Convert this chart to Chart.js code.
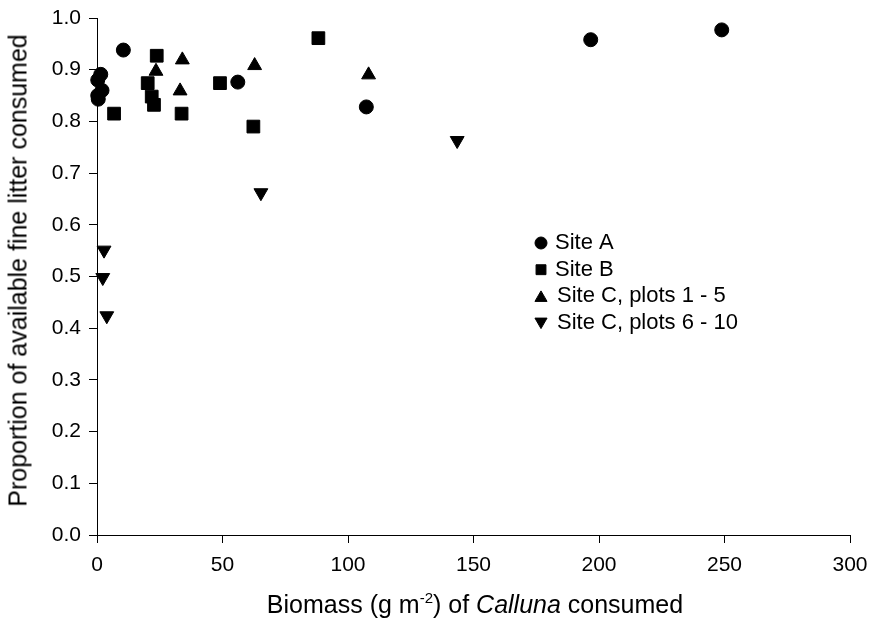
<!DOCTYPE html>
<html>
<head>
<meta charset="utf-8">
<script src="https://cdn.jsdelivr.net/npm/chart.js@4/dist/chart.umd.min.js"></script>
<style>
  body { margin: 0; background: #fff; }
  #wrap { position: relative; width: 869px; height: 632px; overflow: hidden; }
  #grafico { position: absolute; left: 0; top: 0; }
  .titulo {
    position: absolute; text-align: center; color: #000; white-space: nowrap;
    font-family: "Liberation Sans", Arial, sans-serif; font-size: 25px; line-height: 29px;
  }
  #tituloX { left: 97px; width: 756px; top: 590px; }
  #tituloX sup { font-size: 15px; vertical-align: 10px; line-height: 0; }
  #tituloY { left: -242px; width: 520px; top: 256px; height: 29px; transform: rotate(-90deg); }
</style>
</head>
<body>
<div id="wrap">
  <canvas id="grafico" width="869" height="632"></canvas>
  <div id="tituloY" class="titulo">Proportion of available fine litter consumed</div>
  <div id="tituloX" class="titulo">Biomass (g m<sup>-2</sup>) of <i>Calluna</i> consumed</div>
</div>
<script>
// ===== dados =====
const siteAx = [1.5, 0.3, 2, 0.3, 0.5, 10.5, 56.1, 107.3, 196.7, 248.9];
const siteAy = [0.891, 0.880, 0.860, 0.850, 0.843, 0.938, 0.876, 0.828, 0.958, 0.977];

const siteBx = [6.8, 20.2, 21.8, 22.7, 23.8, 33.7, 49.0, 62.3, 88.2];
const siteBy = [0.815, 0.874, 0.848, 0.832, 0.927, 0.815, 0.874, 0.790, 0.961];

const siteC1x = [23.5, 33.1, 34.0, 62.8, 108.2];
const siteC1y = [0.897, 0.859, 0.919, 0.908, 0.890];

const siteC2x = [2.8, 2.3, 3.9, 65.3, 143.5];
const siteC2y = [0.551, 0.498, 0.424, 0.662, 0.763];

const legendas = ["Site A", "Site B", "Site C, plots 1 - 5", "Site C, plots 6 - 10"];
const ticksX = [0, 50, 100, 150, 200, 250, 300];
const ticksY = [0, 0.1, 0.2, 0.3, 0.4, 0.5, 0.6, 0.7, 0.8, 0.9, 1.0];

function juntar(xs, ys) {
  pontos = [];
  for (let i = 0; i < xs.length; i++) {
    pontos.push({ x: xs[i], y: ys[i] });
  }
  return pontos;
}

const fonte = '"Liberation Sans", Arial, sans-serif';
const fonteEstreita = '"Liberation Sans Narrow", "Arial Narrow", "Liberation Sans", sans-serif';

// legenda desenhada dentro da area do grafico
const legendaPlugin = {
  id: "legendaInterna",
  afterDatasetsDraw(chart) {
    const ctx = chart.ctx;
    const tamanhos = [6, 7, 7, 7];
    ctx.save();
    chart.data.datasets.forEach((ds, i) => {
      const y = 243 + i * 26.7;
      ctx.fillStyle = "#000";
      ctx.strokeStyle = "#000";
      ctx.lineWidth = 1;
      Chart.helpers.drawPoint(ctx, {
        pointStyle: ds.pointStyle,
        rotation: ds.rotation || 0,
        radius: tamanhos[i],
        borderWidth: 1
      }, 541, i == 2 ? y + 1.5 : (i == 3 ? y - 1.5 : y));
      ctx.font = "22px " + fonte;
      ctx.textAlign = "left";
      ctx.textBaseline = "middle";
      ctx.fillText(legendas[i], i < 2 ? 555 : 557, y);
    });
    ctx.restore();
  }
};

function estilo(cor, forma, raio, rot) {
  return {
    pointStyle: forma,
    pointRadius: raio,
    pointHoverRadius: raio,
    rotation: rot,
    backgroundColor: cor,
    borderColor: cor,
    borderWidth: 1,
    clip: false,
    showLine: false
  };
}

const ctx = document.getElementById("grafico").getContext("2d");
let myChart = new Chart(ctx, {
  type: "scatter",
  data: {
    datasets: [
      Object.assign({ label: legendas[0], data: juntar(siteAx, siteAy) }, estilo("#000", "circle", 7, 0)),
      Object.assign({ label: legendas[1], data: juntar(siteBx, siteBy) }, estilo("#000", "rect", 9, 0)),
      Object.assign({ label: legendas[2], data: juntar(siteC1x, siteC1y) }, estilo("#000", "triangle", 8, 0)),
      Object.assign({ label: legendas[3], data: juntar(siteC2x, siteC2y) }, estilo("#000", "triangle", 8, 180))
    ]
  },
  options: {
    responsive: false,
    animation: false,
    layout: { padding: { left: 0, top: 18, right: 19, bottom: 0 } },
    plugins: {
      legend: { display: false },
      tooltip: { enabled: false }
    },
    scales: {
      x: {
        type: "linear",
        min: 0,
        max: 300,
        afterFit: (scale) => {
          scale.height = 97;
          scale.paddingLeft = 0;
          scale.paddingRight = 0;
        },
        afterBuildTicks: (scale) => { scale.ticks = ticksX.map(v => ({ value: v })); },
        ticks: {
          autoSkip: false,
          maxRotation: 0,
          padding: 10,
          color: "#000",
          font: { family: fonteEstreita, size: 21 }
        },
        grid: { display: true, drawOnChartArea: false, drawTicks: true, tickLength: 8, color: "#000" },
        border: { display: true, color: "#000", width: 1 }
      },
      y: {
        type: "linear",
        min: 0,
        max: 1,
        afterFit: (scale) => {
          scale.width = 97;
          scale.paddingTop = 0;
          scale.paddingBottom = 0;
        },
        afterBuildTicks: (scale) => { scale.ticks = ticksY.map(v => ({ value: v })); },
        ticks: {
          autoSkip: false,
          padding: 8,
          color: "#000",
          font: { family: fonteEstreita, size: 21 },
          callback: (v) => Number(v).toFixed(1)
        },
        grid: { display: true, drawOnChartArea: false, drawTicks: true, tickLength: 8, color: "#000" },
        border: { display: true, color: "#000", width: 1 }
      }
    }
  },
  plugins: [legendaPlugin]
});
</script>
</body>
</html>
